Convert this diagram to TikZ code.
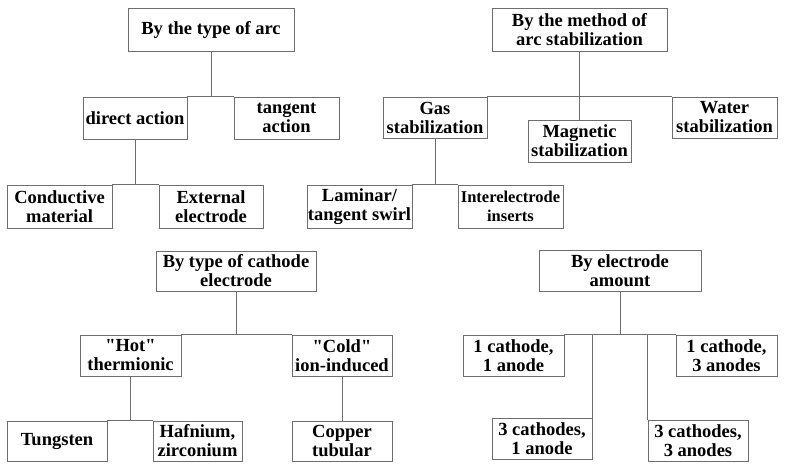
\documentclass[tikz,border=0pt]{standalone}
\usepackage{fontspec}
\setmainfont{Liberation Serif}[Ligatures=TeXOff]
\definecolor{linecol}{HTML}{6E6E6E}
\begin{document}
\begin{tikzpicture}[x=1pt,y=-1pt,
  box/.style={draw=linecol, line width=0.8pt, inner sep=0pt, align=center,
    font=\bfseries\fontsize{18.5}{19}\selectfont},
  conn/.style={draw=linecol, line width=0.8pt}]
\useasboundingbox[fill=white] (0,0) rectangle (790,470);
% --- by type of arc
\node[box, minimum width=166pt, minimum height=43pt] (A1) at (211,29.5) {By the type of arc};
\node[box, minimum width=104pt, minimum height=42pt] (A2) at (135,118) {direct action};
\node[box, minimum width=105pt, minimum height=42pt] (A3) at (286.5,118) {tangent\\action};
\node[box, minimum width=105pt, minimum height=43pt] (A4) at (59.5,206.5) {Conductive\\material};
\node[box, minimum width=104pt, minimum height=43pt] (A5) at (211,206.5) {External\\electrode};
% --- by method of arc stabilization
\node[box, minimum width=175pt, minimum height=43pt] (B1) at (579.5,29.5) {By the method of\\arc stabilization};
\node[box, minimum width=104pt, minimum height=41pt] (B2) at (435,117.5) {Gas\\stabilization};
\node[box, minimum width=103pt, minimum height=42pt] (B3) at (579.5,141) {Magnetic\\stabilization};
\node[box, minimum width=105pt, minimum height=41pt] (B4) at (724.5,117.5) {Water\\stabilization};
\node[box, minimum width=105pt, minimum height=43pt] (B5) at (359.5,206.5) {Laminar/\\tangent swirl};
\node[box, minimum width=105pt, minimum height=43pt, font=\bfseries\fontsize{16.5}{19}\selectfont] (B6) at (510.5,206.5) {Interelectrode\\inserts};
% --- by type of cathode electrode
\node[box, minimum width=160pt, minimum height=40pt] (C1) at (236,271) {By type of cathode\\electrode};
\node[box, minimum width=101pt, minimum height=41pt] (C2) at (130.5,355.5) {"Hot"\\thermionic};
\node[box, minimum width=100pt, minimum height=41pt] (C3) at (342,355.5) {"Cold"\\ion-induced};
\node[box, minimum width=100pt, minimum height=40pt] (C4) at (57,441) {Tungsten};
\node[box, minimum width=89pt, minimum height=40pt] (C5) at (197.5,441) {Hafnium,\\zirconium};
\node[box, minimum width=100pt, minimum height=40pt] (C6) at (342,441) {Copper\\tubular};
% --- by electrode amount
\node[box, minimum width=162pt, minimum height=41pt] (D1) at (620,270.5) {By electrode\\amount};
\node[box, minimum width=101pt, minimum height=41pt] (D2) at (513.5,355.5) {1 cathode,\\1 anode};
\node[box, minimum width=101pt, minimum height=41pt] (D3) at (726.5,355.5) {1 cathode,\\3 anodes};
\node[box, minimum width=100pt, minimum height=41pt] (D4) at (542,438.5) {3 cathodes,\\1 anode};
\node[box, minimum width=100pt, minimum height=41pt] (D5) at (698,440.5) {3 cathodes,\\3 anodes};
% --- connectors
\draw[conn] (A1.south) -- (A1.south |- A2.north);
\draw[conn] (A2.north east) -- (A3.north west);
\draw[conn] (A2.south) -- (A2.south |- A4.north);
\draw[conn] (A4.north east) -- (A5.north west);
\draw[conn] (B1.south) -- (B3.north);
\draw[conn] (B2.north east) -- (B4.north west);
\draw[conn] (B2.south) -- (B2.south |- B5.north);
\draw[conn] (B5.north east) -- (B6.north west);
\draw[conn] (C1.south) -- (C1.south |- C2.north);
\draw[conn] (C2.north east) -- (C3.north west);
\draw[conn] (C2.south) -- (C2.south |- C4.north);
\draw[conn] (C4.north east) -- (C5.north west);
\draw[conn] (C3.south) -- (C6.north);
\draw[conn] (D1.south) -- (D1.south |- D2.north);
\draw[conn] (D2.north east) -- (D3.north west);
\draw[conn] (D4.north east |- D2.north) -- (D4.north east);
\draw[conn] (D5.north west |- D3.north) -- (D5.north west);
\end{tikzpicture}
\end{document}
